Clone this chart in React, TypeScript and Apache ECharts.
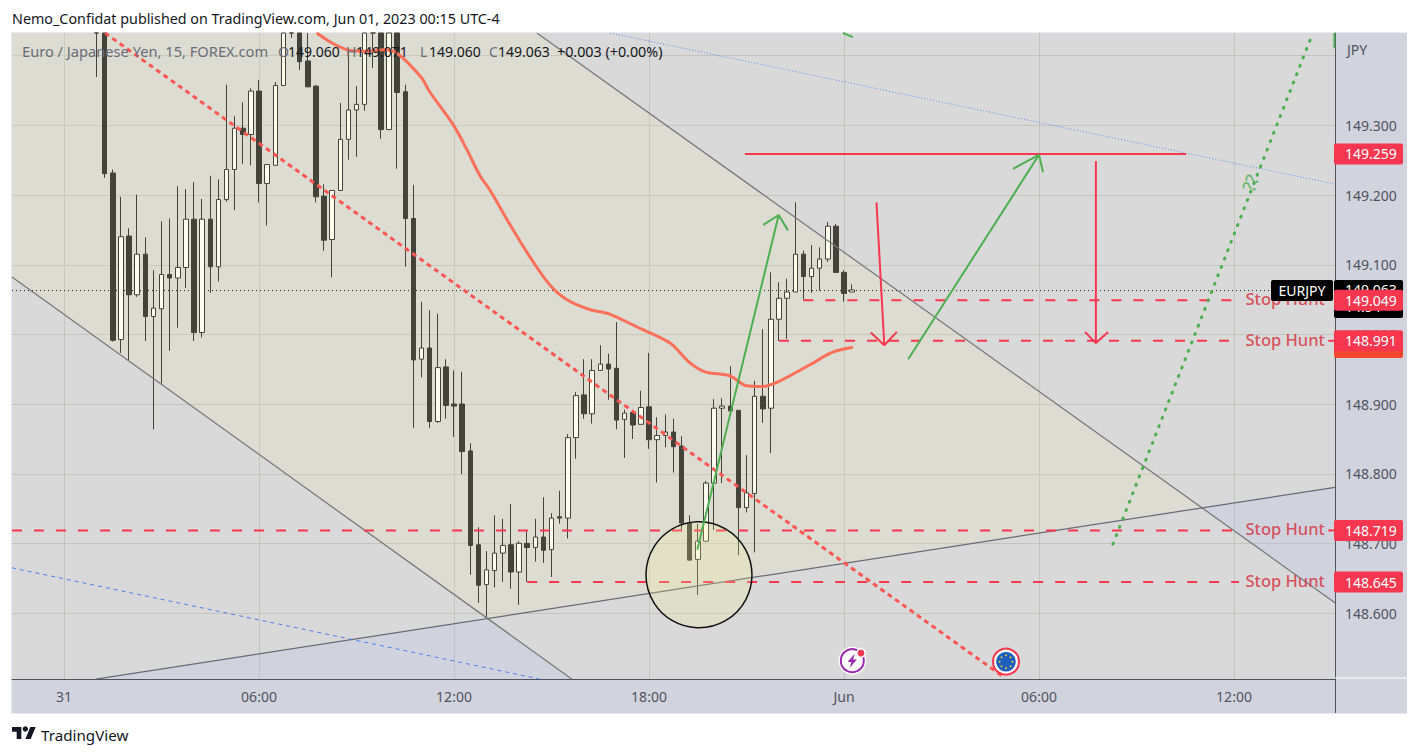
import React, { useEffect, useRef } from "react";
import * as echarts from "echarts";

const FONT = '"Noto Sans", sans-serif';

// --- axes
const xMin = -0.4;
const xMax = 162.43;
const yMin = 148.5059;
const yMax = 149.4325;
const timeTicks = [6, 30, 54, 78, 102, 126, 150];
const timeLabels = ["31", "06:00", "12:00", "18:00", "Jun", "06:00", "12:00"];
const priceTicks = [148.6, 148.7, 148.8, 148.9, 149.0, 149.1, 149.2, 149.3, 149.4];
const hiddenPriceLabels = [149.4];

// --- candles: [open, close, low, high], one per 15 minutes
const firstBar = 10;
const candles = [
  [149.56, 149.5, 149.367, 149.6],
  [149.5, 149.229, 149.223, 149.52],
  [149.23, 148.991, 148.989, 149.235],
  [148.992, 149.139, 148.973, 149.196],
  [149.14, 149.056, 148.963, 149.151],
  [149.056, 149.114, 149.053, 149.199],
  [149.114, 149.025, 148.99, 149.138],
  [149.025, 149.037, 148.864, 149.091],
  [149.036, 149.085, 148.929, 149.161],
  [149.085, 149.08, 148.976, 149.165],
  [149.08, 149.095, 149.009, 149.211],
  [149.095, 149.164, 149.066, 149.207],
  [149.164, 149.002, 148.99, 149.217],
  [149.002, 149.164, 148.995, 149.193],
  [149.164, 149.096, 149.059, 149.226],
  [149.096, 149.192, 149.075, 149.221],
  [149.192, 149.235, 149.189, 149.356],
  [149.235, 149.294, 149.177, 149.311],
  [149.294, 149.285, 149.243, 149.331],
  [149.285, 149.347, 149.241, 149.351],
  [149.347, 149.215, 149.188, 149.363],
  [149.215, 149.242, 149.155, 149.242],
  [149.241, 149.355, 149.24, 149.36],
  [149.355, 149.5, 149.355, 149.52],
  [149.52, 149.46, 149.423, 149.53],
  [149.46, 149.389, 149.377, 149.48],
  [149.39, 149.353, 149.353, 149.45],
  [149.354, 149.196, 149.188, 149.356],
  [149.197, 149.134, 149.119, 149.214],
  [149.135, 149.205, 149.081, 149.205],
  [149.205, 149.278, 149.205, 149.33],
  [149.278, 149.32, 149.249, 149.406],
  [149.32, 149.328, 149.253, 149.354],
  [149.328, 149.47, 149.319, 149.49],
  [149.47, 149.45, 149.38, 149.5],
  [149.47, 149.292, 149.279, 149.5],
  [149.292, 149.5, 149.292, 149.52],
  [149.5, 149.345, 149.236, 149.51],
  [149.346, 149.165, 149.096, 149.356],
  [149.165, 148.963, 148.866, 149.213],
  [148.964, 148.98, 148.938, 149.046],
  [148.98, 148.875, 148.866, 149.034],
  [148.875, 148.952, 148.873, 149.029],
  [148.953, 148.898, 148.879, 148.964],
  [148.9, 148.897, 148.853, 148.948],
  [148.9, 148.832, 148.8, 148.946],
  [148.833, 148.698, 148.656, 148.844],
  [148.699, 148.641, 148.616, 148.724],
  [148.642, 148.663, 148.595, 148.69],
  [148.662, 148.687, 148.638, 148.741],
  [148.687, 148.698, 148.646, 148.736],
  [148.699, 148.66, 148.636, 148.757],
  [148.66, 148.701, 148.613, 148.704],
  [148.701, 148.695, 148.646, 148.719],
  [148.695, 148.71, 148.675, 148.736],
  [148.71, 148.691, 148.673, 148.767],
  [148.692, 148.737, 148.653, 148.744],
  [148.739, 148.737, 148.729, 148.776],
  [148.737, 148.852, 148.708, 148.857],
  [148.852, 148.912, 148.822, 148.917],
  [148.913, 148.886, 148.879, 148.964],
  [148.886, 148.948, 148.872, 148.964],
  [148.948, 148.957, 148.948, 148.984],
  [148.957, 148.95, 148.906, 148.972],
  [148.951, 148.877, 148.864, 149.017],
  [148.878, 148.887, 148.823, 148.892],
  [148.888, 148.87, 148.85, 148.891],
  [148.871, 148.895, 148.871, 148.919],
  [148.896, 148.849, 148.836, 148.973],
  [148.849, 148.855, 148.788, 148.881],
  [148.855, 148.86, 148.838, 148.885],
  [148.86, 148.839, 148.802, 148.879],
  [148.84, 148.73, 148.718, 148.854],
  [148.73, 148.677, 148.676, 148.741],
  [148.678, 148.704, 148.627, 148.729],
  [148.704, 148.787, 148.704, 148.79],
  [148.787, 148.894, 148.72, 148.907],
  [148.894, 148.897, 148.787, 148.908],
  [148.897, 148.89, 148.89, 148.954],
  [148.891, 148.752, 148.684, 148.891],
  [148.752, 148.773, 148.745, 148.827],
  [148.772, 148.911, 148.688, 148.933],
  [148.911, 148.893, 148.873, 149.007],
  [148.894, 149.021, 148.83, 149.088],
  [149.021, 149.051, 148.99, 149.074],
  [149.051, 149.06, 148.993, 149.079],
  [149.06, 149.114, 149.06, 149.188],
  [149.114, 149.082, 149.049, 149.119],
  [149.082, 149.094, 149.059, 149.127],
  [149.094, 149.107, 149.062, 149.124],
  [149.107, 149.154, 149.103, 149.16],
  [149.154, 149.088, 149.088, 149.157],
  [149.088, 149.058, 149.046, 149.091],
  [149.06, 149.063, 149.06, 149.071],
];

// --- moving average
const emaPoints = [
  [37.1, 149.43], [39.1, 149.415], [41.2, 149.405], [43.3, 149.404], [45.3, 149.406],
  [47.0, 149.401], [50.0, 149.366], [51.0, 149.346], [53.9, 149.299], [55.6, 149.263],
  [57.2, 149.226], [58.4, 149.206], [60.9, 149.156], [63.4, 149.109], [65.8, 149.07],
  [67.9, 149.049], [70.7, 149.035], [73.0, 149.029], [76.9, 149.008], [80.6, 148.987],
  [83.0, 148.959], [84.9, 148.946], [88.0, 148.94], [90.0, 148.926], [92.0, 148.925],
  [94.1, 148.933], [97.8, 148.956], [100.6, 148.974], [103.1, 148.981],
];

// --- drawings, in [bar, price]
const channelPolygon = [[-0.4, 149.43], [64.2, 149.43], [145.8, 148.753], [57.94, 148.594], [-0.4, 149.0814]];
const overlapLeft = [[9.94, 148.507], [57.94, 148.594], [68.52, 148.507]];
const overlapRight = [[145.8, 148.753], [162.43, 148.781], [162.43, 148.616]];
const upperLine = [[64.2, 149.43], [162.43, 148.616]];
const lowerLine = [[-0.4, 149.0814], [68.52, 148.507]];
const risingLine = [[9.94, 148.507], [162.43, 148.781]];
const redDotted = [[11.05, 149.43], [121.4, 148.512]];
const blueDotted = [[73.2, 149.43], [162.43, 149.214]];
const blueDashed = [[-0.4, 148.666], [64.6, 148.507]];
const greenDotted = [[135.1, 148.7], [159.7, 149.43]];
const greenStubA = [[101.88, 149.43], [103.1, 149.424]];
const greenStubB = [[162.35, 149.43], [162.35, 149.409]];
const redArrows = [
  { shaft: [[106.0, 149.188], [106.96, 148.984]], head: [[105.3, 149.002], [106.96, 148.984], [108.5, 149.003]] },
  { shaft: [[133.0, 149.247], [133.0, 148.987]], head: [[131.66, 149.003], [133.0, 148.987], [134.5, 149.003]] },
];
const greenArrows = [
  { shaft: [[83.95, 148.692], [93.96, 149.17]], head: [[92.07, 149.156], [93.96, 149.17], [95.1, 149.148]] },
  { shaft: [[109.9, 148.964], [126.0, 149.256]], head: [[122.8, 149.236], [126.0, 149.256], [126.5, 149.231]] },
];
const circleCentre = [84.15, 148.656];
const questionMarks = [[152, 149.216]];

// --- exact price levels
const targetLine = [[89.8, 149.259], [144.1, 149.259]];
const lastPriceLine = [[-0.4, 149.063], [162.43, 149.063]];
const stopHuntSegments = [
  [[-0.4, 148.719], [149.9, 148.719]],
  [[161.6, 148.719], [162.43, 148.719]],
  [[63, 148.645], [150.6, 148.645]],
  [[94, 148.991], [149.9, 148.991]],
  [[161.6, 148.991], [162.43, 148.991]],
  [[97, 149.049], [149.9, 149.049]],
];
const stopHuntLabels = [[156.3, 149.049], [156.3, 148.991], [156.3, 148.719], [156.3, 148.645]];

// --- price tags on the axis
const redTags = [149.259, 149.049, 148.991, 148.719, 148.645];
const lastPrice = "149.063";
const countdown = "14:54";

// --- legend text
const legendName = "Euro / Japanese Yen, 15, FOREX.com";
const legendOhlc = [
  ["O", "149.060", 278, 288],
  ["H", "149.071", 346, 356],
  ["L", "149.060", 420, 429],
  ["C", "149.063", 489, 498],
];
const legendChange = "+0.003 (+0.00%)";
const publishedLine = "Nemo_Confidat published on TradingView.com, Jun 01, 2023 00:15 UTC-4";

const GRID = { left: 12, top: 33, width: 1323, height: 646 };
const RED = "#f7374f";
const GREEN = "#4caf50";
const priceToY = (p: number) => GRID.top + ((yMax - p) / (yMax - yMin)) * GRID.height;

// The readings above were taken against a slightly coarser price ruler; this aligns them with the axis.
const readPrice = (p: number) => 149.3 + (700 * (p - 149.3) + 1.4) / 697.1;
const read = (pts: number[][]) => pts.map(([b, p]) => [b, readPrice(p)]);
const clampPrice = (p: number) => Math.min(readPrice(p), yMax);

echarts.graphic.registerShape(
  "tvLogo",
  echarts.graphic.extendPath("M14 22H7V11H0V4h14v18zM28 22h-8l7.5-18h8L28 22z", {}) as any
);

const stroke = (data: number[][], color: string, width: number, type: any = "solid", z = 3, extra: any = {}) => ({
  type: "line",
  data,
  showSymbol: false,
  silent: true,
  animation: false,
  z,
  clip: true,
  lineStyle: { color, width, type, ...extra },
});

function buildGraphic() {
  const els: any[] = [];
  const text = (t: string, x: number, y: number, fill: string, size = 14, align = "left", z = 50) =>
    els.push({
      type: "text",
      x,
      y,
      z,
      style: { text: t, fill, font: `${size}px ${FONT}`, textAlign: align, textVerticalAlign: "middle" },
    });
  const rect = (x: number, y: number, width: number, height: number, fill: string, z: number, r = 0) =>
    els.push({ type: "rect", z, shape: { x, y, width, height, r }, style: { fill } });

  text(publishedLine, 12, 18, "#131722", 14.32);
  text(legendName, 22, 51, "#6a6d78", 14.65);
  legendOhlc.forEach(([k, v, kx, vx]) => {
    text(k as string, kx as number, 51, "#6a6d78", 14);
    text(v as string, vx as number, 51, "#131722", 14);
  });
  text(legendChange, 557, 51, "#131722", 14.3);
  text("JPY", 1347, 49, "#50535e", 14);

  // white seam between plot and time pane on the price scale
  rect(1335, 677.5, 72, 1, "#ffffff", 40);
  rect(1335, 679, 1, 34, "#50535e", 40);

  // last price black tag with countdown, under the red tags
  rect(1334, 280, 69, 38, "#000000", 41, 2);
  text(lastPrice, 1345, 289, "#ffffff", 14, "left", 42);
  text(countdown, 1345, 306, "#ffffff", 14, "left", 42);
  // EMA orange tag
  rect(1334, 340, 69, 18, "#f4472f", 41, 2);
  redTags.forEach((p) => {
    const y = priceToY(p);
    rect(1334, y - 10.5, 69, 21, RED, 44, 2);
    text(p.toFixed(3), 1345, y, "#ffffff", 14, "left", 45);
  });
  // symbol tag
  rect(1271, 280, 62, 21, "#000000", 46, 2);
  text("EURJPY", 1302, 290.5, "#ffffff", 14, "center", 47);

  // earnings-style event icon
  els.push({ type: "circle", z: 30, shape: { cx: 852.3, cy: 660.7, r: 14 }, style: { fill: "#ffffff" } });
  els.push({ type: "circle", z: 31, shape: { cx: 852.3, cy: 660.7, r: 11.5 }, style: { fill: "#ffffff", stroke: "#9c27b0", lineWidth: 2 } });
  els.push({
    type: "polygon",
    z: 32,
    shape: { points: [[855, 653.5], [847.5, 662], [851.5, 662], [849.5, 668], [857, 659.5], [853, 659.5]] },
    style: { fill: "#9c27b0" },
  });
  els.push({ type: "circle", z: 33, shape: { cx: 861, cy: 653, r: 4.2 }, style: { fill: RED, stroke: "#ffffff", lineWidth: 1.5 } });

  // EU flag icon
  els.push({ type: "circle", z: 30, shape: { cx: 1006, cy: 661.7, r: 13 }, style: { fill: "#ffffff", stroke: RED, lineWidth: 2 } });
  els.push({ type: "circle", z: 31, shape: { cx: 1006, cy: 661.7, r: 9.8 }, style: { fill: "#1d5fbf" } });
  for (let i = 0; i < 8; i++) {
    const a = (i / 8) * Math.PI * 2;
    els.push({
      type: "circle",
      z: 32,
      shape: { cx: 1006 + Math.cos(a) * 6.4, cy: 661.7 + Math.sin(a) * 6.4, r: 0.9 },
      style: { fill: "#f7d02c" },
    });
  }

  // footer logo
  els.push({ type: "tvLogo", z: 50, x: 12, y: 724.3, scaleX: 0.667, scaleY: 0.667, style: { fill: "#131722" } });
  els.push({ type: "circle", z: 50, shape: { cx: 12 + 20 * 0.667, cy: 724.3 + 7 * 0.667, r: 2.7 }, style: { fill: "#131722" } });
  text("TradingView", 41, 735, "#131722", 15.2);
  return els;
}

export default function App() {
  const ref = useRef<HTMLDivElement>(null);
  useEffect(() => {
    const chart = echarts.init(ref.current!, undefined, { renderer: "svg" });
    const polygons = [
      { pts: read(channelPolygon), fill: "rgba(244,244,177,0.15)" },
      { pts: read(overlapLeft), fill: "rgba(177,192,247,0.2)" },
      { pts: read(overlapRight), fill: "rgba(177,192,247,0.2)" },
    ];
    const option: any = {
      animation: false,
      textStyle: { fontFamily: FONT },
      grid: {
        ...GRID,
        show: true,
        backgroundColor: "#d9d9d9",
        borderWidth: 0,
        containLabel: false,
      },
      xAxis: {
        type: "value",
        min: xMin,
        max: xMax,
        axisLine: { show: true, onZero: false, lineStyle: { color: "#50535e", width: 1 } },
        axisTick: { show: false, customValues: timeTicks },
        axisLabel: {
          customValues: timeTicks,
          color: "#50535e",
          fontSize: 14,
          fontFamily: FONT,
          margin: 10,
          formatter: (v: number) => timeLabels[timeTicks.indexOf(v)] ?? "",
        },
        splitLine: { show: true, lineStyle: { color: "#c3c4bd", width: 1 } },
      },
      yAxis: {
        type: "value",
        position: "right",
        min: yMin,
        max: yMax,
        axisLine: { show: true, onZero: false, lineStyle: { color: "#50535e", width: 1 } },
        axisTick: { show: false, customValues: priceTicks },
        axisLabel: {
          customValues: priceTicks,
          color: "#50535e",
          fontSize: 14,
          fontFamily: FONT,
          margin: 10,
          padding: [0, 0, 2, 0],
          formatter: (v: number) => (hiddenPriceLabels.includes(v) ? "" : v.toFixed(3)),
        },
        splitLine: { show: true, lineStyle: { color: "#c3c4bd", width: 1 } },
      },
      series: [
        {
          type: "custom",
          silent: true,
          z: 1,
          clip: true,
          coordinateSystem: "cartesian2d",
          data: polygons.map((_, i) => [i]),
          encode: { x: 0 },
          renderItem: (params: any, api: any) => {
            const p = polygons[params.dataIndex];
            return {
              type: "polygon",
              shape: { points: p.pts.map((q) => api.coord(q)) },
              style: { fill: p.fill },
            };
          },
        },
        stroke(lastPriceLine, "#1a1a1a", 1, [1, 3], 2),
        {
          type: "candlestick",
          z: 4,
          silent: true,
          clip: true,
          barWidth: 5,
          encode: { x: 0, y: [1, 2, 3, 4] },
          data: candles.map((c, i) => [firstBar + i, clampPrice(c[0]), clampPrice(c[1]), clampPrice(c[2]), clampPrice(c[3])]),
          itemStyle: {
            color: "#fdfcef",
            color0: "#44433a",
            borderColor: "#44433a",
            borderColor0: "#44433a",
            borderWidth: 1,
          },
        },
        stroke(read(upperLine), "#787878", 1.25, "solid", 5),
        stroke(read(lowerLine), "#787878", 1.25, "solid", 5),
        stroke(read(risingLine), "#6a6c75", 1.25, "solid", 5),
        stroke(read(blueDotted), "#5b8cf5", 1, [1, 2], 5),
        stroke(read(blueDashed), "#4f7ff0", 1, [4, 4], 5),
        { ...stroke(read(emaPoints), "#fb7058", 3, "solid", 6), smooth: 0.3 },
        stroke(read(redDotted), "#fb5752", 3, [5, 4], 6),
        ...stopHuntSegments.map((s) => stroke(s, RED, 2, [10, 12], 6)),
        stroke(targetLine, RED, 2, "solid", 6),
        {
          type: "scatter",
          z: 7,
          silent: true,
          data: read([circleCentre]),
          symbol: "circle",
          symbolSize: 106,
          itemStyle: { color: "rgba(249,245,150,0.2)", borderColor: "#111111", borderWidth: 1.5, opacity: 1 },
        },
        ...redArrows.flatMap((a) => [
          stroke(read(a.shaft), RED, 2, "solid", 8),
          stroke(read(a.head), RED, 2, "solid", 8),
        ]),
        ...greenArrows.flatMap((a) => [
          stroke(read(a.shaft), GREEN, 2, "solid", 8),
          stroke(read(a.head), GREEN, 2, "solid", 8),
        ]),
        stroke(read(greenDotted), GREEN, 3, [1, 8], 8, { cap: "round" }),
        stroke(read(greenStubA), GREEN, 2, "solid", 8),
        stroke(read(greenStubB), GREEN, 2, "solid", 8),
        {
          type: "scatter",
          z: 9,
          silent: true,
          data: stopHuntLabels,
          symbolSize: 1,
          itemStyle: { color: "transparent" },
          label: {
            show: true,
            position: "inside",
            offset: [0, -1.5],
            formatter: "Stop Hunt",
            color: "#d62c38",
            fontSize: 16.5,
            fontWeight: 500,
            fontFamily: FONT,
          },
        },
        {
          type: "scatter",
          z: 9,
          silent: true,
          data: read(questionMarks),
          symbolSize: 1,
          itemStyle: { color: "transparent" },
          label: {
            show: true,
            position: "inside",
            formatter: "??",
            rotate: 70,
            color: GREEN,
            fontSize: 18,
            fontWeight: 500,
            fontFamily: FONT,
          },
        },
      ],
      graphic: { elements: buildGraphic() },
    };
    chart.setOption(option);
    return () => chart.dispose();
  }, []);

  return (
    <div style={{ position: "absolute", left: 0, top: 0, width: 1420, height: 756, background: "#ffffff", overflow: "hidden" }}>
      <div style={{ position: "absolute", left: 11, top: 32, width: 1396, height: 682, boxSizing: "border-box", border: "1px solid #e8ebf2" }} />
      <div style={{ position: "absolute", left: 12, top: 679, width: 1323, height: 34, background: "#d1d4dc" }} />
      <div style={{ position: "absolute", left: 1335, top: 33, width: 72, height: 680, background: "#d1d4dc" }} />
      <div ref={ref} style={{ position: "absolute", left: 0, top: 0, width: 1420, height: 756 }} />
    </div>
  );
}
